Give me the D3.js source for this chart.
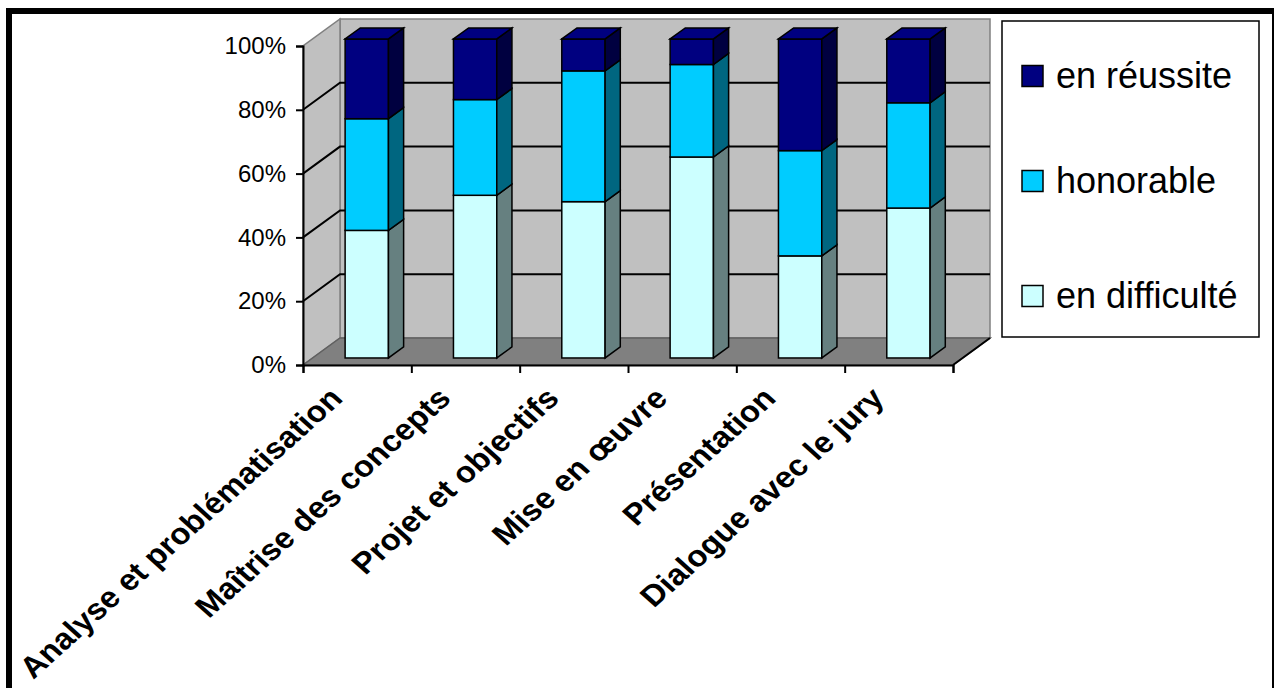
<!DOCTYPE html>
<html>
<head>
<meta charset="utf-8">
<script src="https://cdn.jsdelivr.net/npm/d3@7"></script>
<style>
  body { margin: 0; background: #fff; }
  svg { display: block; font-family: Arial, "Liberation Sans", sans-serif; }
</style>
</head>
<body>
<div id="chart"></div>
<script>
const categories = ['Analyse et problématisation', 'Maîtrise des concepts', 'Projet et objectifs',
    'Mise en œuvre', 'Présentation', 'Dialogue avec le jury'];
const seriesNames = ['en difficulté', 'honorable', 'en réussite'];
const enDifficulte = [40, 51, 49, 63, 32, 47];
const honorable = [35, 30, 41, 29, 33, 33];
const enReussite = [25, 19, 10, 8, 35, 20];
const yTicks = [0, 0.2, 0.4, 0.6, 0.8, 1];

const w = 1274, h = 688;
const front = { left: 303, right: 953, bottom: 365, top: 46 };
const depth = { dx: 37, dy: -27 };
const barFront = 0.26, barBack = 0.67;   // bar depth inside the box

const frontFill = { 'en difficulté': '#CCFFFF', 'honorable': '#00CCFF', 'en réussite': '#000080' };
const sideFill = { 'en difficulté': '#668080', 'honorable': '#006680', 'en réussite': '#000040' };

const rows = categories.map((c, i) => ({
    cat: c, 'en difficulté': enDifficulte[i], 'honorable': honorable[i], 'en réussite': enReussite[i]
}));
const stacked = d3.stack().keys(seriesNames).offset(d3.stackOffsetExpand)(rows);

const svg = d3.select('#chart').append('svg').attr('width', w).attr('height', h);

// outer frame
svg.append('rect').attr('x', 9).attr('y', 11).attr('width', 1266).attr('height', 720)
    .attr('fill', '#fff').attr('stroke', '#000').attr('stroke-width', 6);

const x = d3.scaleBand().domain(categories).range([front.left, front.right])
    .paddingInner(0.6).paddingOuter(0.3);
const xEdge = d3.scaleLinear().domain([0, categories.length]).range([front.left, front.right]);
const y = d3.scaleLinear().domain([0, 1]).range([front.bottom, front.top]);

const off = f => [depth.dx * f, depth.dy * f];
const pt = (px, py, f) => [px + off(f)[0], py + off(f)[1]];
const line = d3.line();

// walls
const g = svg.append('g');
const [bx0, by0] = pt(front.left, y(0), 1);
const [bx1, by1] = pt(front.right, y(1), 1);
g.append('rect').attr('x', bx0).attr('y', by1).attr('width', bx1 - bx0).attr('height', by0 - by1)
    .attr('fill', '#C0C0C0').attr('stroke', '#808080').attr('stroke-width', 1.5);
g.append('path')
    .attr('d', line([[front.left, y(0)], [front.left, y(1)], pt(front.left, y(1), 1), pt(front.left, y(0), 1)]) + 'Z')
    .attr('fill', '#C0C0C0').attr('stroke', '#808080').attr('stroke-width', 1.5);
g.append('path')
    .attr('d', line([[front.left, y(0)], [front.right, y(0)], pt(front.right, y(0), 1), pt(front.left, y(0), 1)]) + 'Z')
    .attr('fill', '#808080').attr('stroke', '#606060').attr('stroke-width', 1.5);

// gridlines on side and back wall
yTicks.filter(t => t > 0 && t < 1).forEach(t => {
    g.append('path')
        .attr('d', line([[front.left, y(t)], pt(front.left, y(t), 1), pt(front.right, y(t), 1)]))
        .attr('fill', 'none').attr('stroke', '#000').attr('stroke-width', 2);
});

// floor front-right edge
g.append('path').attr('d', line([[front.right, y(0)], pt(front.right, y(0), 1)]))
    .attr('stroke', '#000').attr('stroke-width', 2);

// bars
const bw = x.bandwidth();
const [ddx, ddy] = off(barBack - barFront);
categories.forEach((c, i) => {
    const bg = svg.append('g');
    const x0 = x(c) + off(barFront)[0];
    const x1 = x0 + bw;
    stacked.forEach((s, k) => {
        const d = s[i];
        const yb = y(d[0]) + off(barFront)[1];
        const yt = y(d[1]) + off(barFront)[1];
        bg.append('rect').attr('x', x0).attr('y', yt).attr('width', bw).attr('height', yb - yt)
            .attr('fill', frontFill[s.key]).attr('stroke', '#000').attr('stroke-width', 1.5);
        bg.append('path')
            .attr('d', line([[x1, yt], [x1 + ddx, yt + ddy], [x1 + ddx, yb + ddy], [x1, yb]]) + 'Z')
            .attr('fill', sideFill[s.key]).attr('stroke', '#000').attr('stroke-width', 1.5);
        if (k === stacked.length - 1) {
            bg.append('path')
                .attr('d', line([[x0, yt], [x0 + ddx, yt + ddy], [x1 + ddx, yt + ddy], [x1, yt]]) + 'Z')
                .attr('fill', frontFill[s.key]).attr('stroke', '#000').attr('stroke-width', 1.5);
        }
    });
});

// axes
const yAxis = d3.axisLeft(y).tickValues(yTicks).tickFormat(d3.format('.0%')).tickSize(7).tickPadding(10);
const ya = svg.append('g').attr('transform', `translate(${front.left},0)`).call(yAxis);
ya.select('.domain').attr('stroke-width', 2);
ya.selectAll('.tick line').attr('stroke-width', 2);
ya.selectAll('text').attr('font-size', 24).attr('font-family', 'Arial, "Liberation Sans", sans-serif').attr('fill', '#000');

const xAxis = d3.axisBottom(xEdge).tickValues(d3.range(categories.length + 1)).tickFormat('').tickSize(8).tickSizeOuter(8);
const xa = svg.append('g').attr('transform', `translate(0,${front.bottom})`).call(xAxis);
xa.select('.domain').attr('stroke-width', 2);
xa.selectAll('.tick line').attr('stroke-width', 2);

// category labels (slightly squashed vertically, like the original)
svg.append('g').selectAll('text').data(categories).enter().append('text')
    .attr('transform', d => `translate(${x(d) + bw / 2 - 13},${front.bottom + 35}) scale(1,0.9) rotate(-45)`)
    .attr('text-anchor', 'end')
    .attr('font-size', 33).attr('font-weight', 'bold')
    .text(d => d);

// legend
const legendY = [76, 181, 296];
const legend = svg.append('g');
legend.append('rect').attr('x', 1002).attr('y', 21).attr('width', 257).attr('height', 316)
    .attr('fill', '#fff').attr('stroke', '#000').attr('stroke-width', 1.5);
const legendOrder = seriesNames.slice().reverse();
legendOrder.forEach((name, i) => {
    const cy = legendY[i];
    legend.append('rect').attr('x', 1022).attr('y', cy - 10.5).attr('width', 21).attr('height', 21)
        .attr('fill', frontFill[name]).attr('stroke', '#000').attr('stroke-width', 1.5);
    legend.append('text').attr('x', 1056).attr('y', cy + 12).attr('font-size', 36).text(name);
});
</script>
</body>
</html>
